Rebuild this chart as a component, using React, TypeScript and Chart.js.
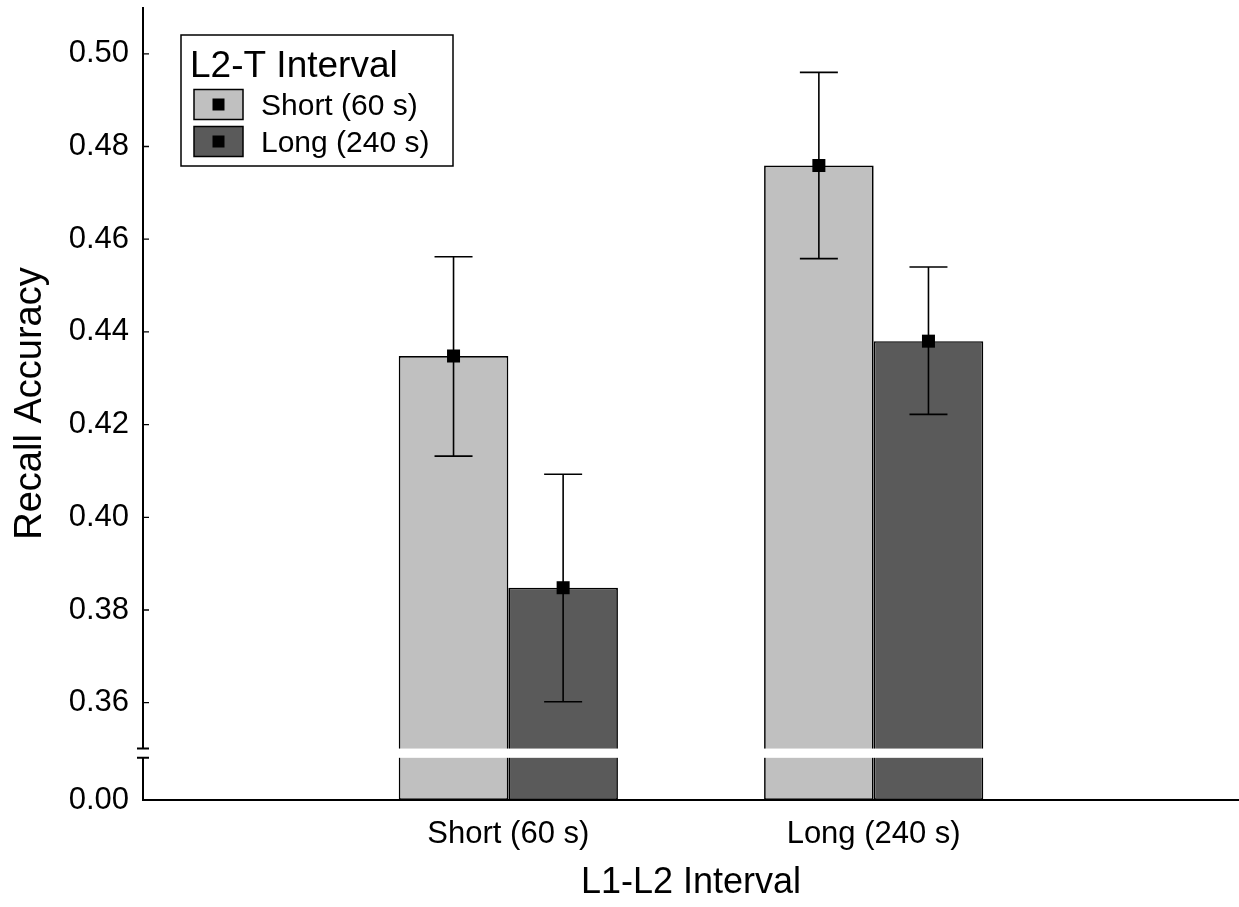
import React, { useEffect, useRef } from "react";
import { Chart, registerables } from "chart.js";

Chart.register(...registerables);

// ---- data ----
const CATEGORIES = ["Short (60 s)", "Long (240 s)"];
const SERIES_LABELS = ["Short (60 s)", "Long (240 s)"];
const LEGEND_TITLE = "L2-T Interval";
const SHORT_MEANS = [0.4348, 0.4759];
const LONG_MEANS = [0.3848, 0.438];
const SHORT_LOW = [0.4132, 0.4558];
const SHORT_HIGH = [0.4562, 0.496];
const LONG_LOW = [0.3602, 0.4222];
const LONG_HIGH = [0.4093, 0.454];
const Y_TICKS = [0.36, 0.38, 0.4, 0.42, 0.44, 0.46, 0.48, 0.5];
const Y_ZERO_LABEL = "0.00";
const Y_TITLE = "Recall Accuracy";
const X_TITLE = "L1-L2 Interval";

// ---- axis configuration ----
const Y_MIN = 0.339; // position where the broken axis shows 0.00
const Y_MAX = 0.5101;
const BREAK_LOW = 0.3481;
const BREAK_HIGH = 0.3501;
const COLORS = ["#c0c0c0", "#5a5a5a"];
const FONT = "'Liberation Sans', Arial, Helvetica, sans-serif";

const overlayPlugin = {
  id: "overlay",
  afterDatasetsDraw(chart: any) {
    const ctx = chart.ctx;
    const ys = chart.scales.y;
    const area = chart.chartArea;
    const lows = [SHORT_LOW, LONG_LOW];
    const highs = [SHORT_HIGH, LONG_HIGH];
    const means = [SHORT_MEANS, LONG_MEANS];
    ctx.save();
    // error bars + markers
    for (let d = 0; d < 2; d++) {
      const meta = chart.getDatasetMeta(d);
      meta.data.forEach((bar: any, i: number) => {
        const { x } = bar.getProps(["x"], true);
        const yl = ys.getPixelForValue(lows[d][i]);
        const yh = ys.getPixelForValue(highs[d][i]);
        const ym = ys.getPixelForValue(means[d][i]);
        ctx.strokeStyle = "#000";
        ctx.lineWidth = 1.6;
        ctx.beginPath();
        ctx.moveTo(x, yl);
        ctx.lineTo(x, yh);
        ctx.moveTo(x - 19, yh);
        ctx.lineTo(x + 19, yh);
        ctx.moveTo(x - 19, yl);
        ctx.lineTo(x + 19, yl);
        ctx.stroke();
        ctx.fillStyle = "#000";
        ctx.fillRect(x - 6.5, ym - 6.5, 13, 13);
      });
    }
    // break band across bars
    const bTop = ys.getPixelForValue(BREAK_HIGH);
    const bBot = ys.getPixelForValue(BREAK_LOW);
    const m0 = chart.getDatasetMeta(0);
    const m1 = chart.getDatasetMeta(1);
    for (let i = 0; i < CATEGORIES.length; i++) {
      const b0 = m0.data[i].getProps(["x", "width"], true);
      const b1 = m1.data[i].getProps(["x", "width"], true);
      const l = b0.x - b0.width / 2 - 1;
      const r = b1.x + b1.width / 2 + 1;
      ctx.fillStyle = "#fff";
      ctx.fillRect(l, bTop, r - l, bBot - bTop);
    }
    // axes
    ctx.strokeStyle = "#000";
    ctx.lineWidth = 2;
    const ax = area.left;
    ctx.beginPath();
    ctx.moveTo(ax, area.top);
    ctx.lineTo(ax, bTop);
    ctx.moveTo(ax, bBot);
    ctx.lineTo(ax, area.bottom);
    ctx.moveTo(ax - 1, area.bottom);
    ctx.lineTo(area.right, area.bottom);
    // break marks
    ctx.moveTo(ax - 6, bTop);
    ctx.lineTo(ax + 6, bTop);
    ctx.moveTo(ax - 6, bBot);
    ctx.lineTo(ax + 6, bBot);
    ctx.stroke();
    // inward ticks
    ctx.lineWidth = 1.3;
    ctx.beginPath();
    Y_TICKS.forEach((v) => {
      const py = ys.getPixelForValue(v);
      ctx.moveTo(ax, py);
      ctx.lineTo(ax + 6, py);
    });
    ctx.stroke();
    ctx.restore();
  },
  afterDraw(chart: any) {
    const ctx = chart.ctx;
    ctx.save();
    const bx = 181, by = 35, bw = 272, bh = 131;
    ctx.fillStyle = "#fff";
    ctx.fillRect(bx, by, bw, bh);
    ctx.strokeStyle = "#000";
    ctx.lineWidth = 1.5;
    ctx.strokeRect(bx, by, bw, bh);
    ctx.fillStyle = "#000";
    ctx.textBaseline = "alphabetic";
    ctx.textAlign = "left";
    ctx.font = `37px ${FONT}`;
    ctx.fillText(LEGEND_TITLE, 190, 77);
    ctx.font = `30px ${FONT}`;
    const rowsY = [104.5, 141.5];
    chart.data.datasets.forEach((ds: any, i: number) => {
      const cy = rowsY[i];
      ctx.fillStyle = ds.backgroundColor;
      ctx.fillRect(194, cy - 15, 49, 30);
      ctx.strokeStyle = "#000";
      ctx.lineWidth = 1.5;
      ctx.strokeRect(194, cy - 15, 49, 30);
      ctx.fillStyle = "#000";
      ctx.fillRect(218.5 - 6, cy - 6, 12, 12);
      ctx.fillText(ds.label, 261, cy + 10.5);
    });
    ctx.restore();
  },
};

export default function App() {
  const ref = useRef<HTMLCanvasElement | null>(null);
  useEffect(() => {
    if (!ref.current) return;
    const chart = new Chart(ref.current, {
      type: "bar",
      data: {
        datasets: [
          {
            label: SERIES_LABELS[0],
            data: SHORT_MEANS.map((v, i) => ({ x: i + 1, y: v })),
            backgroundColor: COLORS[0],
            borderColor: "#000",
            borderWidth: 1.7,
            borderSkipped: false,
            base: Y_MIN,
          },
          {
            label: SERIES_LABELS[1],
            data: LONG_MEANS.map((v, i) => ({ x: i + 1, y: v })),
            backgroundColor: COLORS[1],
            borderColor: "#000",
            borderWidth: 1.7,
            borderSkipped: false,
            base: Y_MIN,
          },
        ],
      },
      options: {
        responsive: false,
        animation: false,
        layout: { padding: { top: 7, right: 0, left: 0, bottom: 0 } },
        datasets: { bar: { categoryPercentage: 0.6, barPercentage: 1 } },
        plugins: { legend: { display: false }, tooltip: { enabled: false }, title: { display: false } },
        scales: {
          x: {
            type: "linear",
            min: 0,
            max: 3,
            offset: false,
            grid: { display: false, drawTicks: false },
            border: { display: false },
            afterBuildTicks: (s: any) => {
              s.ticks = CATEGORIES.map((_, i) => ({ value: i + 1 }));
            },
            afterFit: (s: any) => {
              s.height = 107;
              s.paddingLeft = 0;
              s.paddingRight = 0;
            },
            ticks: {
              padding: 16,
              color: "#000",
              font: { family: FONT, size: 31 },
              callback: (v: any) => CATEGORIES[Math.round(v) - 1] ?? "",
            },
            title: {
              display: true,
              text: X_TITLE,
              color: "#000",
              font: { family: FONT, size: 36 },
              padding: { top: 0, bottom: 2 },
            },
          },
          y: {
            type: "linear",
            min: Y_MIN,
            max: Y_MAX,
            grid: { display: false, drawTicks: false },
            border: { display: false },
            afterBuildTicks: (s: any) => {
              s.ticks = [Y_MIN, ...Y_TICKS].map((v) => ({ value: v }));
            },
            afterFit: (s: any) => {
              s.width = 143;
              s.paddingTop = 0;
              s.paddingBottom = 0;
            },
            ticks: {
              padding: 14,
              color: "#000",
              font: { family: FONT, size: 31 },
              callback: (v: any) => (Math.abs(v - Y_MIN) < 1e-6 ? Y_ZERO_LABEL : Number(v).toFixed(2)),
            },
            title: {
              display: true,
              text: Y_TITLE,
              color: "#000",
              font: { family: FONT, size: 38 },
              padding: { top: 8, bottom: 0 },
            },
          },
        },
      },
      plugins: [overlayPlugin],
    } as any);
    return () => chart.destroy();
  }, []);
  return (
    <div style={{ position: "absolute", left: 0, top: 0, width: 1239, height: 907, background: "#fff" }}>
      <canvas ref={ref} width={1239} height={907} />
    </div>
  );
}
